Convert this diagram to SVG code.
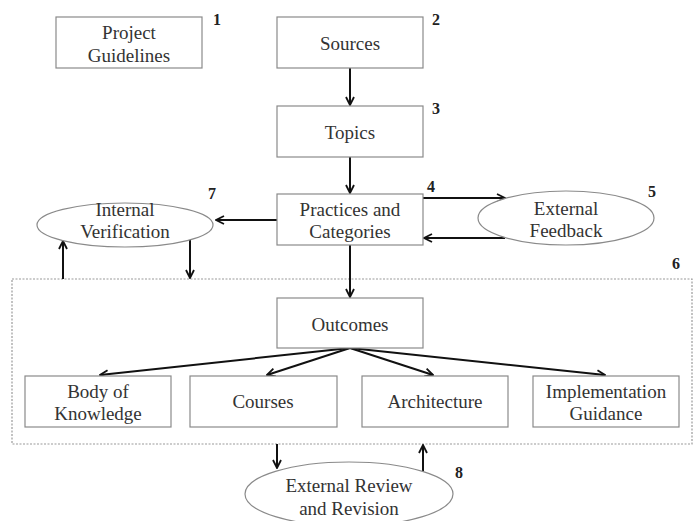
<svg xmlns="http://www.w3.org/2000/svg" width="696" height="521" viewBox="0 0 696 521">
<style>
.box{fill:#fff;stroke:#8a8a8a;stroke-width:1.2}
.ell{fill:#fff;stroke:#8a8a8a;stroke-width:1.2}
.t{font-family:"Liberation Serif","Times New Roman",serif;font-size:19px;fill:#333;text-anchor:middle}
.n{font-family:"Liberation Serif","Times New Roman",serif;font-size:16px;font-weight:bold;fill:#222}
.c{stroke:#111;stroke-width:2;fill:none;marker-end:url(#ah)}
.cont{fill:none;stroke:#9a9a9a;stroke-width:1.2;stroke-dasharray:2 1.5}
</style>
<defs>
<marker id="ah" viewBox="0 0 10 10" refX="9" refY="5" markerWidth="5" markerHeight="5" orient="auto" markerUnits="strokeWidth">
<path d="M1,1 L9,5 L1,9" fill="none" stroke="#111" stroke-width="1.8"/>
</marker>
</defs>
<rect class="cont" x="12" y="279" width="680" height="165"/>
<g id="connectors">
<line class="c" x1="350" y1="68" x2="350" y2="105"/>
<line class="c" x1="350" y1="157" x2="350" y2="193"/>
<line class="c" x1="277" y1="220" x2="216" y2="220"/>
<line class="c" x1="423" y1="198" x2="505" y2="198"/>
<line class="c" x1="505" y1="238" x2="424" y2="238"/>
<line class="c" x1="63" y1="279" x2="63" y2="241"/>
<line class="c" x1="190" y1="240" x2="190" y2="278"/>
<line class="c" x1="350" y1="245" x2="350" y2="297"/>
<line class="c" x1="350" y1="348" x2="100" y2="375"/>
<line class="c" x1="350" y1="348" x2="267" y2="375"/>
<line class="c" x1="350" y1="348" x2="433" y2="375"/>
<line class="c" x1="350" y1="348" x2="605" y2="375"/>
<line class="c" x1="277" y1="444" x2="277" y2="468"/>
<line class="c" x1="423" y1="472" x2="423" y2="445"/>
</g>
<g id="n1"><rect class="box" x="56" y="17" width="146" height="51"/><text class="t" x="129" y="39">Project</text><text class="t" x="129" y="62">Guidelines</text><text class="n" x="213" y="25">1</text></g>
<g id="n2"><rect class="box" x="277" y="17" width="146" height="51"/><text class="t" x="350" y="50">Sources</text><text class="n" x="432" y="25">2</text></g>
<g id="n3"><rect class="box" x="277" y="106" width="146" height="51"/><text class="t" x="350" y="139">Topics</text><text class="n" x="432" y="114">3</text></g>
<g id="n4"><rect class="box" x="277" y="194" width="146" height="51"/><text class="t" x="350" y="216">Practices and</text><text class="t" x="350" y="238">Categories</text><text class="n" x="427" y="192">4</text></g>
<g id="n5"><ellipse class="ell" cx="566" cy="218" rx="88" ry="27"/><text class="t" x="566" y="215">External</text><text class="t" x="566" y="237">Feedback</text><text class="n" x="648" y="197">5</text></g>
<g id="n6"><text class="n" x="672" y="269">6</text></g>
<g id="n7"><ellipse class="ell" cx="125" cy="225" rx="88" ry="22"/><text class="t" x="125" y="216">Internal</text><text class="t" x="125" y="238">Verification</text><text class="n" x="208" y="199">7</text></g>
<g id="outcomes"><rect class="box" x="277" y="298" width="146" height="50"/><text class="t" x="350" y="331">Outcomes</text></g>
<g id="bok"><rect class="box" x="25" y="376" width="146" height="51"/><text class="t" x="98" y="398">Body of</text><text class="t" x="98" y="420">Knowledge</text></g>
<g id="courses"><rect class="box" x="190" y="376" width="147" height="51"/><text class="t" x="263" y="408">Courses</text></g>
<g id="arch"><rect class="box" x="362" y="376" width="146" height="51"/><text class="t" x="435" y="408">Architecture</text></g>
<g id="impl"><rect class="box" x="533" y="376" width="146" height="51"/><text class="t" x="606" y="398">Implementation</text><text class="t" x="606" y="420">Guidance</text></g>
<g id="n8"><ellipse class="ell" cx="349" cy="494" rx="104" ry="32"/><text class="t" x="349" y="492">External Review</text><text class="t" x="349" y="515">and Revision</text><text class="n" x="455" y="478">8</text></g>
</svg>
